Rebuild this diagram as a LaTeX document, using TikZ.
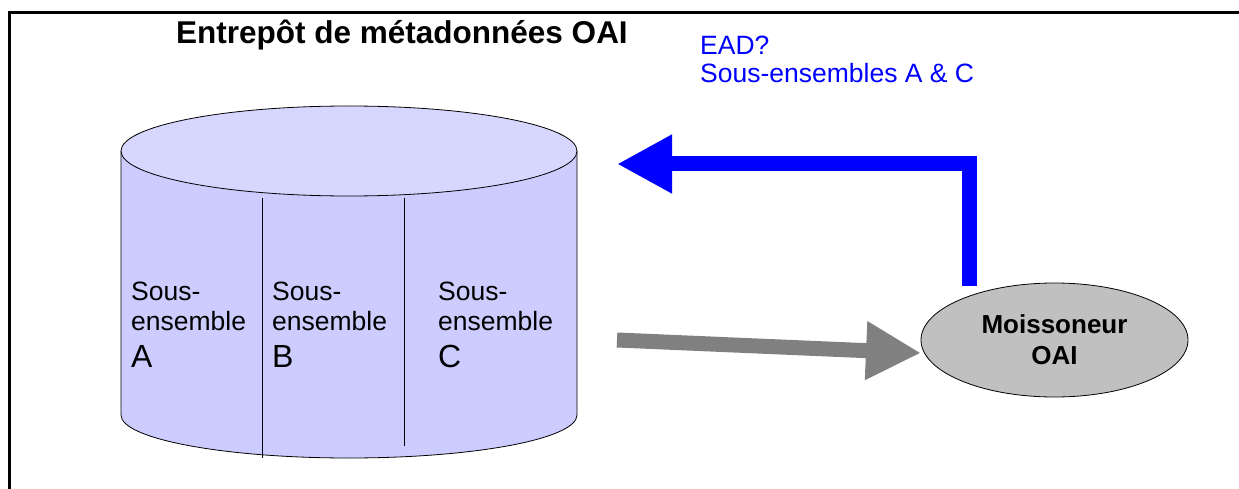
\documentclass[tikz,border=0pt]{standalone}
\usepackage{fontspec}
\setmainfont{Liberation Sans}
\usetikzlibrary{positioning, shapes, arrows.meta}

\tikzset{
  coltext/.style={anchor=base west, inner sep=0pt, font=\fontsize{26.5}{28}\selectfont},
  bigletter/.style={coltext, font=\fontsize{32}{34}\selectfont},
  flowarrow/.style={line width=15pt, -{Triangle[length=55pt, width=55pt]}},
}

\begin{document}
\begin{tikzpicture}[x=1pt, y=-1pt]
\useasboundingbox (0,0) rectangle (1239,489);
% frame
\draw[line width=3pt] (9.5,489) -- (9.5,12.5) -- (1239,12.5);

\node[anchor=base west, inner sep=0pt, font=\fontsize{31.5}{33}\selectfont\bfseries] (titre) at (176,44) {Entrep\^ot de m\'etadonn\'ees OAI};
\node[coltext, text=blue] (ead) at (700,55) {EAD?};
\node[coltext, text=blue] (sousAC) at (700,83) {Sous-ensembles A \& C};

% cylinder
\fill[fill={rgb,255:red,204;green,204;blue,255}] (121,151) -- (121,415) arc[start angle=180, end angle=0, x radius=228, y radius=43] -- (577,151) -- cycle;
\draw[line width=0.8pt] (121,151) -- (121,415) arc[start angle=180, end angle=0, x radius=228, y radius=43] -- (577,151);
\draw[line width=0.8pt, fill={rgb,255:red,214;green,214;blue,255}] (349,151) ellipse[x radius=228, y radius=45];
\draw[line width=1pt] (262,198) -- (262,458);
\draw[line width=1pt] (404,198) -- (404,446);

\foreach \x/\l in {131/A, 272/B, 438/C}{
  \node[coltext] (sous\l) at (\x,300) {Sous-};
  \node[coltext] (ens\l) at (\x,330) {ensemble};
  \node[bigletter] (lettre\l) at (\x,367) {\l};
}

% harvester
\node[ellipse, draw, line width=0.8pt, fill={rgb,255:red,192;green,192;blue,192}, minimum width=267pt, minimum height=114pt, align=center, font=\fontsize{26}{31}\selectfont\bfseries] (moisson) at (1054.5,340) {Moissoneur\\OAI};

\coordinate (depart) at (617,340);
\coordinate (arrivee) at (921,353);
\coordinate (haut) at (969.5,286);
\coordinate (coin) at (969.5,164);
\coordinate (pointe) at (617,164);

\draw[flowarrow, draw={rgb,255:red,128;green,128;blue,128}] (depart) -- (arrivee);
\draw[flowarrow, draw=blue] (haut) -- (coin) -- (pointe);

\end{tikzpicture}
\end{document}
